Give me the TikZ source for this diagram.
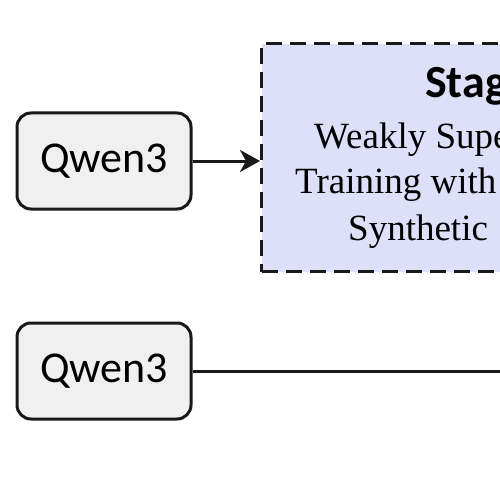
\documentclass[tikz,border=0pt]{standalone}
\usepackage{fontspec}
\setmainfont{Liberation Serif}
\newfontfamily\calfont{Carlito}
\usetikzlibrary{arrows.meta}
\definecolor{stagefill}{RGB}{222,224,250}
\definecolor{qfill}{RGB}{240,240,240}
\begin{document}
\begin{tikzpicture}[x=1pt,y=-1pt,
  qbox/.style={draw=black!90, line width=3pt, rounded corners=14pt, fill=qfill,
    minimum width=174pt, minimum height=96pt, inner sep=0pt,
    font=\calfont\fontsize{44}{50}\selectfont},
  stagebox/.style={draw=black!90, line width=3.2pt, dash pattern=on 16pt off 8pt,
    fill=stagefill, anchor=north west, minimum width=400pt, minimum height=228pt, inner sep=0pt},
  stitle/.style={anchor=base west, inner sep=0pt, font=\calfont\bfseries\fontsize{46}{50}\selectfont},
  sline/.style={anchor=base west, inner sep=0pt, font=\fontsize{37}{44}\selectfont},
  conn/.style={draw=black!90, line width=3pt},
  arr/.style={conn, -{Stealth[length=20pt, width=22pt, inset=6pt]}}]
\useasboundingbox (0,0) rectangle (500,500);
\clip (0,0) rectangle (500,500);
\fill[white] (0,0) rectangle (500,500);
\node[stagebox] (s1) at (260,42) {};
\node[stitle] (t0) at (425,98) {Stage};
\node[sline] (t1) at (314,148) {Weakly Super};
\node[sline] (t2) at (295,193) {Training with};
\node[sline] (t3) at (348,240) {Synthetic};
\node[qbox] (q1) at (104,161) {Qwen3};
\node[qbox] (q2) at (104,371) {Qwen3};
\coordinate (e2) at (505,371);
\draw[arr] (q1.east) -- (q1.east -| s1.west);
\draw[conn] (q2.east) -- (e2);
\end{tikzpicture}
\end{document}
